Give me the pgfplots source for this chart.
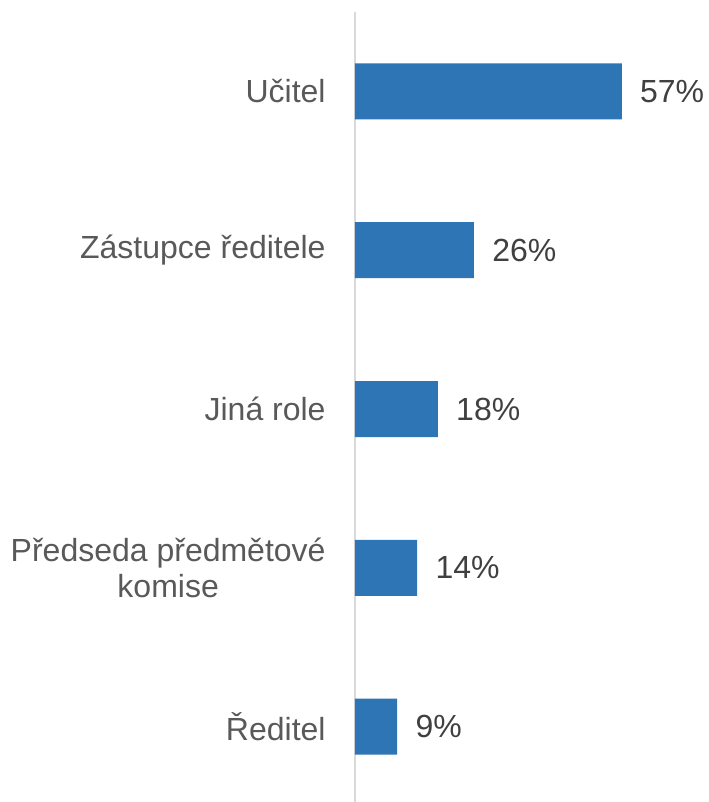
\documentclass[border=0pt]{standalone}
\usepackage{pgfplots}
\pgfplotsset{compat=1.18}
\usepackage{fontspec}
\setmainfont{Liberation Sans}
\definecolor{barblue}{HTML}{2E75B6}
\definecolor{labgray}{HTML}{595959}
\definecolor{valgray}{HTML}{404040}
\definecolor{axgray}{HTML}{D9D9D9}
\begin{document}
\begin{tikzpicture}
\path[use as bounding box] (-177.5pt,2pt) rectangle (176.5pt,403pt);
\begin{axis}[
  at={(0,0)}, anchor=south west,
  scale only axis,
  width=175.5pt, height=397pt,
  xbar, bar width=28pt,
  xmin=0, xmax=75,
  ymin=-0.5, ymax=4.5,
  y dir=reverse,
  ytick={0,1,2,3,4},
  yticklabels={Učitel,Zástupce ředitele,Jiná role,{Předseda předmětové\\komise},Ředitel},
  yticklabel style={align=center, anchor=east, inner sep=0pt, xshift=-14.5pt, text=labgray, font=\fontsize{16}{18}\selectfont},
  xtick=\empty,
  major tick length=0pt,
  axis x line*=bottom,
  axis y line*=left,
  x axis line style={draw=none},
  y axis line style={-, draw=axgray, line width=0.75pt},
  point meta=explicit symbolic,
  nodes near coords={\pgfplotspointmeta\%},
  nodes near coords style={anchor=west, inner sep=0pt, xshift=9pt, text=valgray, font=\fontsize{16}{18}\selectfont},
  clip=false,
]
\addplot[fill=barblue, draw=none] coordinates {(57,0) [57] (25.4,1) [26] (17.7,2) [18] (13.3,3) [14] (9.0,4) [9]};
\end{axis}
\end{tikzpicture}
\end{document}
